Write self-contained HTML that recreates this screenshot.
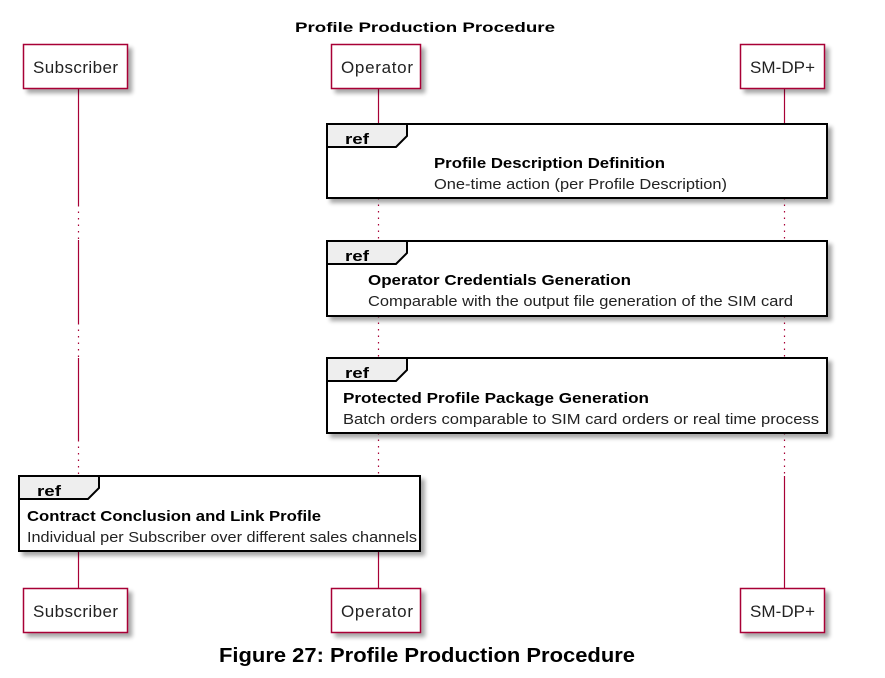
<!DOCTYPE html>
<html><head><meta charset="utf-8"><style>
html,body{margin:0;padding:0;background:#fff;}
svg{display:block;font-family:"Liberation Sans",Arial,sans-serif;}
</style></head><body>
<svg width="885" height="678" viewBox="0 0 885 678" xmlns="http://www.w3.org/2000/svg">
<defs>
<filter id="sh" x="-10%" y="-10%" width="130%" height="140%"><feGaussianBlur in="SourceAlpha" stdDeviation="2"/><feOffset dx="4" dy="4"/><feComponentTransfer><feFuncA type="linear" slope="0.35"/></feComponentTransfer><feMerge><feMergeNode/><feMergeNode in="SourceGraphic"/></feMerge></filter>
</defs>
<text x="425" y="32" text-anchor="middle" font-weight="bold" font-size="14" textLength="260" lengthAdjust="spacingAndGlyphs">Profile Production Procedure</text>

<g stroke="#A80036" stroke-width="1.2">
<line x1="78.5" y1="89" x2="78.5" y2="205"/>
<line x1="78.5" y1="205" x2="78.5" y2="240" stroke-dasharray="1.5,5"/>
<line x1="78.5" y1="240" x2="78.5" y2="323"/>
<line x1="78.5" y1="323" x2="78.5" y2="358" stroke-dasharray="1.5,5"/>
<line x1="78.5" y1="358" x2="78.5" y2="440"/>
<line x1="78.5" y1="440" x2="78.5" y2="476" stroke-dasharray="1.5,5"/>
<line x1="78.5" y1="551" x2="78.5" y2="588"/>
<line x1="378.5" y1="89" x2="378.5" y2="124"/>
<line x1="378.5" y1="198" x2="378.5" y2="241" stroke-dasharray="1.5,5"/>
<line x1="378.5" y1="316" x2="378.5" y2="358" stroke-dasharray="1.5,5"/>
<line x1="378.5" y1="433" x2="378.5" y2="476" stroke-dasharray="1.5,5"/>
<line x1="378.5" y1="551" x2="378.5" y2="588"/>
<line x1="784.5" y1="89" x2="784.5" y2="124"/>
<line x1="784.5" y1="198" x2="784.5" y2="241" stroke-dasharray="1.5,5"/>
<line x1="784.5" y1="316" x2="784.5" y2="358" stroke-dasharray="1.5,5"/>
<line x1="784.5" y1="433" x2="784.5" y2="476" stroke-dasharray="1.5,5"/>
<line x1="784.5" y1="476" x2="784.5" y2="588"/>
</g>

<g fill="#fff" stroke="#A80036" stroke-width="1.5" filter="url(#sh)">
<rect x="23.5" y="44.5" width="104" height="44"/>
<rect x="331.5" y="44.5" width="89" height="44"/>
<rect x="740.5" y="44.5" width="84" height="44"/>
<rect x="23.5" y="588.5" width="104" height="44"/>
<rect x="331.5" y="588.5" width="89" height="44"/>
<rect x="740.5" y="588.5" width="84" height="44"/>
</g>
<g font-size="17" fill="#222" text-anchor="middle" lengthAdjust="spacingAndGlyphs">
<text x="75.5" y="73" textLength="85">Subscriber</text>
<text x="377" y="73" textLength="72">Operator</text>
<text x="782.5" y="73" textLength="65">SM-DP+</text>
<text x="75.5" y="617" textLength="85">Subscriber</text>
<text x="377" y="617" textLength="72">Operator</text>
<text x="782.5" y="617" textLength="65">SM-DP+</text>
</g>

<g stroke="#000" stroke-width="2">
<rect x="327" y="124" width="500" height="74" fill="#fff" filter="url(#sh)"/>
<path d="M327,124 H407 V136 L396,147 H327 Z" fill="#eee"/>
<rect x="327" y="241" width="500" height="75" fill="#fff" filter="url(#sh)"/>
<path d="M327,241 H407 V253 L396,264 H327 Z" fill="#eee"/>
<rect x="327" y="358" width="500" height="75" fill="#fff" filter="url(#sh)"/>
<path d="M327,358 H407 V370 L396,381 H327 Z" fill="#eee"/>
<rect x="19" y="476" width="401" height="75" fill="#fff" filter="url(#sh)"/>
<path d="M19,476 H99 V488 L88,499 H19 Z" fill="#eee"/>
</g>
<g font-size="15" font-weight="bold">
<text x="345" y="144" textLength="24" lengthAdjust="spacingAndGlyphs">ref</text>
<text x="345" y="261" textLength="24" lengthAdjust="spacingAndGlyphs">ref</text>
<text x="345" y="378" textLength="24" lengthAdjust="spacingAndGlyphs">ref</text>
<text x="37" y="496" textLength="24" lengthAdjust="spacingAndGlyphs">ref</text>
<text x="434" y="168" textLength="231" lengthAdjust="spacingAndGlyphs">Profile Description Definition</text>
<text x="368" y="285" textLength="263" lengthAdjust="spacingAndGlyphs">Operator Credentials Generation</text>
<text x="343" y="403" textLength="306" lengthAdjust="spacingAndGlyphs">Protected Profile Package Generation</text>
<text x="27" y="521" textLength="294" lengthAdjust="spacingAndGlyphs">Contract Conclusion and Link Profile</text>
</g>
<g font-size="15" fill="#222">
<text x="434" y="189" textLength="293" lengthAdjust="spacingAndGlyphs">One-time action (per Profile Description)</text>
<text x="368" y="306" textLength="425" lengthAdjust="spacingAndGlyphs">Comparable with the output file generation of the SIM card</text>
<text x="343" y="424" textLength="476" lengthAdjust="spacingAndGlyphs">Batch orders comparable to SIM card orders or real time process</text>
<text x="27" y="542" textLength="390" lengthAdjust="spacingAndGlyphs">Individual per Subscriber over different sales channels</text>
</g>

<text x="427" y="662" text-anchor="middle" font-weight="bold" font-size="20" textLength="416" lengthAdjust="spacingAndGlyphs">Figure 27: Profile Production Procedure</text>
</svg>
</body></html>
